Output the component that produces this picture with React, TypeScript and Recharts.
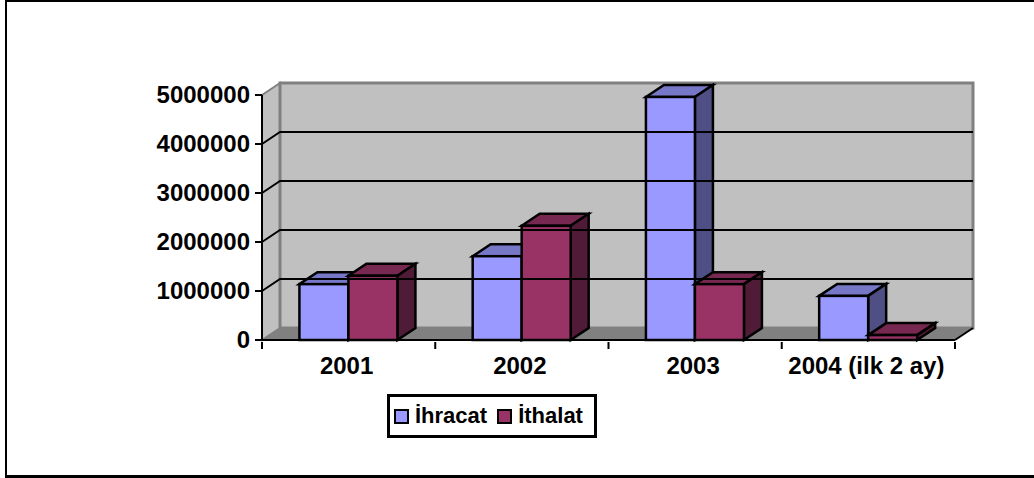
import { BarChart, Bar, XAxis, YAxis, Legend, ReferenceArea, ReferenceLine } from 'recharts';

const years = ['2001', '2002', '2003', '2004 (ilk 2 ay)'];
const ihracat = [1140000, 1710000, 4960000, 900000];
const ithalat = [1310000, 2330000, 1140000, 100000];
const yTicks = [0, 1000000, 2000000, 3000000, 4000000, 5000000];

const data = years.map((year, i) => ({ year, ihracat: ihracat[i], ithalat: ithalat[i] }));

const DX = 18;
const DY = -12;
const FONT = '"Liberation Sans", Arial, sans-serif';

function Box3D({ x, y, width, height, fill, top, side }: any) {
  return (
    <g stroke="#000" strokeWidth={2.5} strokeLinejoin="miter">
      <path d={`M${x},${y} l${DX},${DY} h${width} l${-DX},${-DY} z`} fill={top} />
      <path d={`M${x + width},${y} l${DX},${DY} v${height} l${-DX},${-DY} z`} fill={side} />
      <rect x={x} y={y} width={width} height={height} fill={fill} />
    </g>
  );
}

function Walls({ x, y, width, height }: any) {
  const bottom = y + height;
  return (
    <g>
      <path d={`M${x},${y} l${DX},${DY} v${height} l${-DX},${-DY} z`} fill="#C0C0C0" stroke="#808080" strokeWidth={2} />
      <rect x={x + DX} y={y + DY} width={width} height={height} fill="#C0C0C0" stroke="#808080" strokeWidth={3} />
      <path d={`M${x},${bottom} l${DX},${DY} h${width} l${-DX},${-DY} z`} fill="#808080" />
      <line x1={x + width} y1={bottom} x2={x + width + DX} y2={bottom + DY} stroke="#000" strokeWidth={2} />
    </g>
  );
}

function GridLine({ x1, y1, x2, y2 }: any) {
  return (
    <path
      d={`M${x1},${y1} L${x1 + DX},${y1 + DY} L${x2 + DX},${y2 + DY}`}
      fill="none"
      stroke="#000"
      strokeWidth={2}
    />
  );
}

function YearTick({ x, y, payload, index, width, visibleTicksCount }: any) {
  const band = width / visibleTicksCount;
  return (
    <g>
      <line x1={x - band / 2} y1={y - 6} x2={x - band / 2} y2={y + 1} stroke="#000" strokeWidth={2} />
      {index === visibleTicksCount - 1 && (
        <line x1={x + band / 2} y1={y - 6} x2={x + band / 2} y2={y + 1} stroke="#000" strokeWidth={2} />
      )}
      <text x={x - 2} y={y + 26} textAnchor="middle" fontFamily={FONT} fontWeight="bold" fontSize={24} fill="#000">
        {payload.value}
      </text>
    </g>
  );
}

function LegendBox({ payload }: any) {
  return (
    <div style={{ width: 210, height: 44, boxSizing: 'border-box', border: '3px solid #000', background: '#fff', display: 'flex', alignItems: 'center', paddingLeft: 4, fontFamily: FONT, fontWeight: 'bold', fontSize: 22, color: '#000' }}>
      {payload.map((p: any) => (
        <span key={p.value} style={{ display: 'flex', alignItems: 'center', marginRight: 10 }}>
          <span style={{ width: 15, height: 15, boxSizing: 'border-box', border: '2px solid #000', background: p.color, marginRight: 6 }} />
          {p.value}
        </span>
      ))}
    </div>
  );
}

export default function App() {
  return (
    <div style={{ position: 'absolute', left: 0, top: 0, width: 1034, height: 478, background: '#fff', overflow: 'hidden' }}>
      <div style={{ position: 'absolute', left: 5, top: 0, width: 1029, height: 473, borderLeft: '2px solid #000', borderTop: '2px solid #000', borderBottom: '3px solid #000' }} />
      <BarChart
        width={1034}
        height={478}
        data={data}
        margin={{ top: 95, right: 79, bottom: 108, left: 162 }}
        barCategoryGap="21.6%"
        barGap={0}
        style={{ position: 'absolute', left: 0, top: 0 }}
      >
        <ReferenceArea y1={0} y2={5000000} shape={<Walls />} fill="#C0C0C0" />
        {yTicks.slice(1, -1).map((t) => (
          <ReferenceLine key={t} y={t} shape={<GridLine />} />
        ))}
        <XAxis
          dataKey="year"
          height={30}
          axisLine={{ stroke: '#000', strokeWidth: 2 }}
          tickLine={false}
          interval={0}
          tick={<YearTick />}
        />
        <YAxis
          width={100}
          domain={[0, 5000000]}
          ticks={yTicks}
          interval={0}
          tickSize={7}
          tickMargin={5}
          axisLine={{ stroke: '#000', strokeWidth: 2 }}
          tickLine={{ stroke: '#000', strokeWidth: 2 }}
          tick={{ fill: '#000', fontFamily: FONT, fontWeight: 'bold', fontSize: 24, dy: -1 }}
        />
        <Bar dataKey="ihracat" name="İhracat" fill="#9999FF" isAnimationActive={false} shape={<Box3D top="#7777C7" side="#4F4F86" />} />
        <Bar dataKey="ithalat" name="İthalat" fill="#993366" isAnimationActive={false} shape={<Box3D top="#772850" side="#4F1B36" />} />
        <Legend
          verticalAlign="middle"
          content={<LegendBox />}
          wrapperStyle={{ position: 'absolute', left: 387, top: 394, width: 210, height: 44 }}
        />
      </BarChart>
    </div>
  );
}
